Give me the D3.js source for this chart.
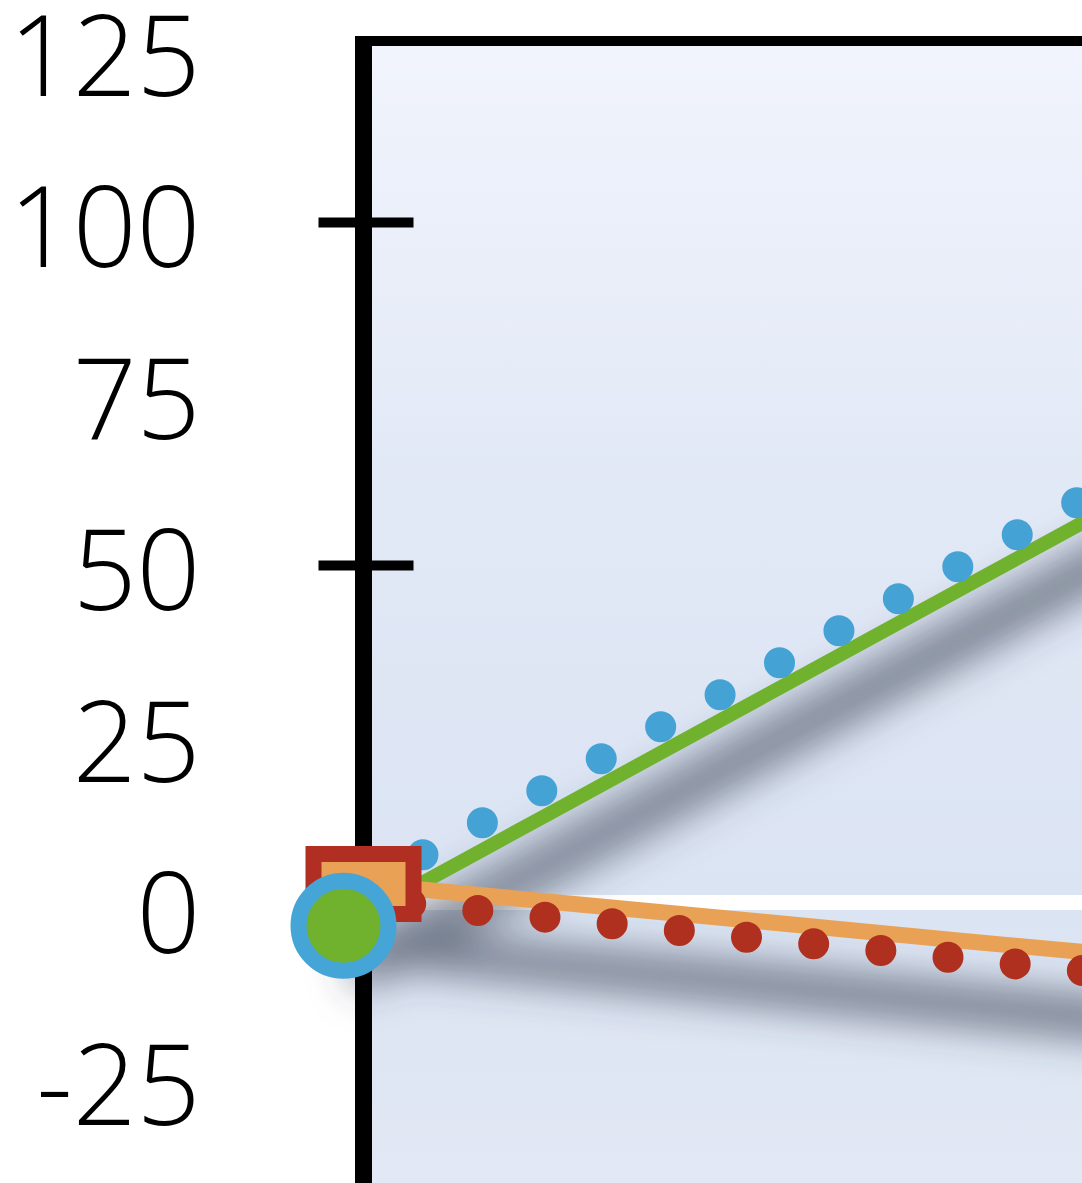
<!DOCTYPE html>
<html><head><meta charset="utf-8">
<script src="https://cdn.jsdelivr.net/npm/d3@7"></script>
<style>html,body{margin:0;padding:0;background:#fff;overflow:hidden}</style>
</head><body><svg id="c" width="1082" height="1183"></svg>
<script>
// ---- data ----
const yTickLabels = [125, 100, 75, 50, 25, 0, -25];
const yMajorTicks = [100, 50, 0, -50];
const baselineValue = [0.8];

const greenX  = [-2, 20, 40, 60, 80];
const greenY  = [-2.6, 14.9, 30.8, 46.7, 62.6];
const blueX   = [0, 20, 40, 60, 80];
const blueY   = [3.1, 18.8, 34.5, 50.2, 65.9];
const orangeX = [0, 20, 40, 60, 80];
const orangeY = [3.5, 0.74, -2.0, -4.8, -7.5];
const redX    = [-2, 20, 40, 60, 80];
const redY    = [1.6, -1.6, -4.5, -7.4, -10.3];

const W = 1082, H = 1183;
const svg = d3.select("#c");
const x = d3.scaleLinear().domain([0, 100]).range([363.5, 1363.5]);
const y = d3.scaleLinear().domain([0, 100]).range([908, 222]);
const plotTop = 41;

const defs = svg.append("defs");
const grad = defs.append("linearGradient").attr("id", "bg").attr("x1", 0).attr("y1", 0).attr("x2", 0).attr("y2", 1);
[[0, "#f1f4fc"], [0.4, "#e1e8f6"], [0.75, "#dbe4f3"], [1, "#e2e8f4"]].forEach(s =>
  grad.append("stop").attr("offset", s[0]).attr("stop-color", s[1]));

const f = defs.append("filter").attr("id", "sh").attr("filterUnits", "userSpaceOnUse")
  .attr("x", 0).attr("y", 0).attr("width", 2000).attr("height", 1600);
f.append("feGaussianBlur").attr("in", "SourceAlpha").attr("stdDeviation", 20).attr("result", "b");
f.append("feOffset").attr("in", "b").attr("dx", 12).attr("dy", 56).attr("result", "o");
f.append("feFlood").attr("flood-color", "#3a4252").attr("flood-opacity", 0.7).attr("result", "fl");
f.append("feComposite").attr("in", "fl").attr("in2", "o").attr("operator", "in");

// background
svg.append("rect").attr("x", x(0)).attr("y", plotTop).attr("width", W - x(0) + 10).attr("height", H - plotTop + 10)
  .attr("fill", "url(#bg)");

// baseline (white)
svg.append("g").selectAll("line").data(baselineValue).join("line")
  .attr("x1", x(0)).attr("x2", W + 10).attr("y1", d => y(d)).attr("y2", d => y(d))
  .attr("stroke", "#ffffff").attr("stroke-width", 15);

const line = d3.line().x(d => x(d[0])).y(d => y(d[1]));
const series = [
  {xs: greenX,  ys: greenY,  color: "#70b22e", width: 14, dotted: false},
  {xs: blueX,   ys: blueY,   color: "#44a3d4", width: 31, dotted: true},
  {xs: orangeX, ys: orangeY, color: "#e9a155", width: 16, dotted: false},
  {xs: redX,    ys: redY,    color: "#b0301f", width: 31, dotted: true}
];
function drawLines(g, shadow) {
  const order = [0, 2, 1, 3];
  order.forEach(i => {
    const s = series[i];
    g.append("path").datum(s.xs.map((v, k) => [v, s.ys[k]]))
      .attr("d", line).attr("fill", "none")
      .attr("stroke", s.color).attr("stroke-width", shadow ? 20 : s.width)
      .attr("stroke-linecap", s.dotted ? "round" : "butt")
      .attr("stroke-dasharray", s.dotted && !shadow ? "0 67.5" : null);
  });
}
drawLines(svg.append("g").attr("filter", "url(#sh)"), true);

// axes
const tickAxis = d3.axisLeft(y).tickValues(yMajorTicks).tickSize(45).tickFormat("");
const ta = svg.append("g").attr("transform", `translate(${x(0)},0)`).call(tickAxis);
ta.select(".domain").remove();
ta.selectAll(".tick line").attr("x1", 50).attr("stroke", "#000").attr("stroke-width", 10);

const labAxis = d3.axisLeft(y).tickValues(yTickLabels).tickSize(0).tickPadding(163)
  .tickFormat(d => String(d));
const la = svg.append("g").attr("transform", `translate(${x(0)},0)`).call(labAxis);
la.select(".domain").remove();
la.selectAll("text").attr("font-family", "'Open Sans', 'Noto Sans', sans-serif")
  .attr("font-weight", 300).attr("font-size", 112).attr("fill", "#000").attr("dy", "0.4em");

svg.append("line").attr("x1", x(0)).attr("x2", x(0)).attr("y1", plotTop - 5).attr("y2", H + 10)
  .attr("stroke", "#000").attr("stroke-width", 17);
svg.append("line").attr("x1", x(0) - 8.5).attr("x2", W + 10).attr("y1", plotTop).attr("y2", plotTop)
  .attr("stroke", "#000").attr("stroke-width", 10);

drawLines(svg.append("g"), false);

// first-point markers
const og = svg.append("g");
og.append("rect").datum([orangeX[0], orangeY[0]])
  .attr("x", d => x(d[0]) - 50).attr("y", d => y(d[1]) - 30).attr("width", 100).attr("height", 60)
  .attr("fill", "#e9a155").attr("stroke", "#b02e22").attr("stroke-width", 16);
og.append("circle").datum([greenX[0], greenY[0]])
  .attr("cx", d => x(d[0])).attr("cy", d => y(d[1])).attr("r", 45)
  .attr("fill", "#70b22e").attr("stroke", "#45a5d6").attr("stroke-width", 16);
</script></body></html>
